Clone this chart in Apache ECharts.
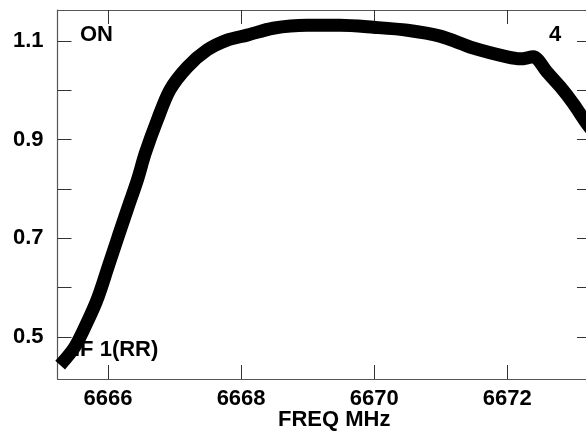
<!DOCTYPE html>
<html><head><meta charset="utf-8">
<script src="https://cdn.jsdelivr.net/npm/echarts@6/dist/echarts.min.js"></script>
<style>html,body{margin:0;padding:0;background:#fff}#c{width:586px;height:432px}</style>
</head><body><div id="c"></div>
<script>
var freq = [6665.28,6665.50,6665.70,6665.85,6666.00,6666.15,6666.30,6666.44,6666.56,6666.74,6666.93,6667.19,6667.49,6667.79,6668.09,6668.48,6668.99,6669.49,6669.99,6670.50,6670.99,6671.49,6672.00,6672.20,6672.39,6672.60,6672.80,6672.99,6673.19,6673.30];
var flux = [0.443,0.480,0.534,0.581,0.642,0.703,0.763,0.818,0.873,0.940,1.001,1.047,1.082,1.102,1.112,1.126,1.132,1.132,1.128,1.122,1.110,1.086,1.068,1.064,1.068,1.037,1.007,0.974,0.934,0.915];
var xTicks = [6666,6668,6670,6672];
var yTicks = [0.5,0.6,0.7,0.8,0.9,1.0,1.1];
var yLabels = [0.5,0.7,0.9,1.1];
var xTitle = 'FREQ MHz';
var notes = ['ON','4','IF 1(RR)'];

var data = freq.map(function(f,i){return [f,flux[i]];});
var axColor = '#555';
var ff = 'Liberation Sans, Arial, sans-serif';
var chart = echarts.init(document.getElementById('c'), null, {renderer:'canvas'});
function xa(pos, labels){
  return {type:'value', position:pos, min:6665.24, max:6673.26,
    axisLine:{show:true, onZero:false, lineStyle:{color:axColor,width:1.2}},
    axisTick:{show:true, inside:true, length:14, customValues:xTicks, lineStyle:{color:'#333',width:1}},
    axisLabel:{show:labels, customValues:xTicks, margin:9, fontSize:22, fontFamily:ff, fontWeight:'bold', color:'#000',
      formatter:function(v){return String(Math.round(v));}},
    splitLine:{show:false}};
}
function ya(pos, labels){
  return {type:'value', position:pos, min:0.415, max:1.163,
    axisLine:{show:true, onZero:false, lineStyle:{color:axColor,width:1.2}},
    axisTick:{show:true, inside:true, length:14, customValues:yTicks, lineStyle:{color:'#333',width:1}},
    axisLabel:{show:labels, customValues:yLabels, margin:14, fontSize:22, fontFamily:ff, fontWeight:'bold', color:'#000',
      formatter:function(v){return v.toFixed(1);}},
    splitLine:{show:false}};
}
chart.setOption({
  animation:false,
  grid:{left:57.5, top:10, width:533.5, bottom:53, outerBoundsMode:'none', containLabel:false},
  xAxis:[xa('bottom', true), xa('top', false)],
  yAxis:[ya('left', true), ya('right', false)],
  graphic:[
    {type:'text', left:80, top:24, z:0, style:{text:notes[0], fontSize:22, fontFamily:ff, fontWeight:'bold', fill:'#000'}},
    {type:'text', left:549, top:24, z:0, style:{text:notes[1], fontSize:22, fontFamily:ff, fontWeight:'bold', fill:'#000'}},
    {type:'text', left:74, top:339, z:0, style:{text:notes[2], fontSize:22, fontFamily:ff, fontWeight:'bold', fill:'#000'}},
    {type:'text', left:278, top:409, z:0, style:{text:xTitle, fontSize:22, fontFamily:ff, fontWeight:'bold', fill:'#000'}}
  ],
  series:[{type:'line', data:data, smooth:0.3, showSymbol:false, z:5,
    lineStyle:{color:'#000', width:13, cap:'butt'}}]
});
</script></body></html>
